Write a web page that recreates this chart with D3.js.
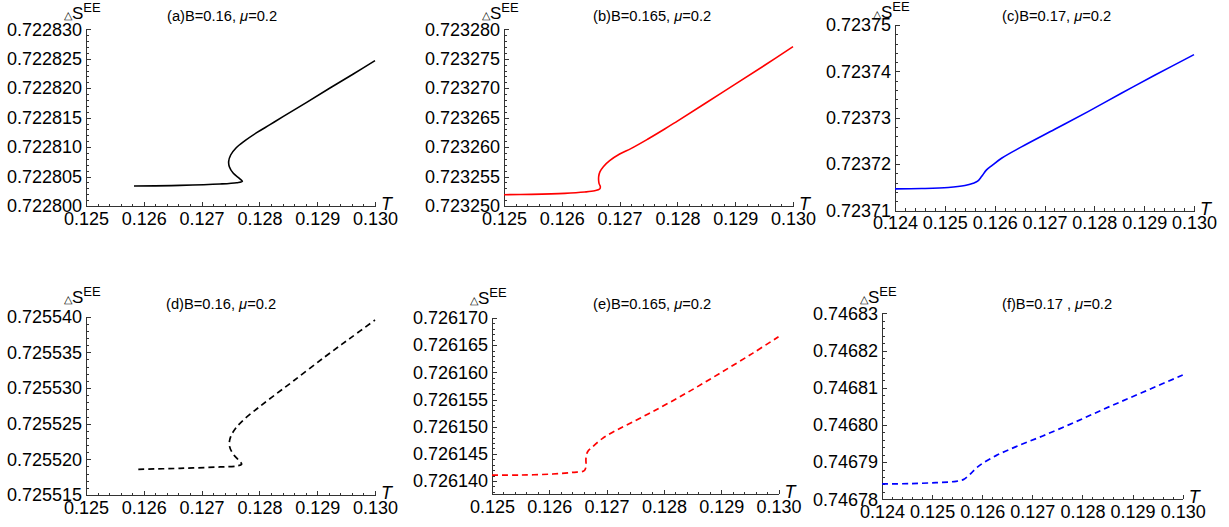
<!DOCTYPE html>
<html>
<head>
<meta charset="utf-8">
<script src="https://cdn.jsdelivr.net/npm/d3@7"></script>
<style>
  body { margin:0; background:#fff; }
  text { font-family:"Liberation Sans", Arial, sans-serif; fill:#000; }
  .axis path, .axis line { stroke:#333; stroke-width:1; shape-rendering:crispEdges; }
</style>
</head>
<body>
<svg id="chart" width="1229" height="527"></svg>
<script>
// ---- data ----
// (a) B=0.16 solid black
var tA = [0.125830,0.126626,0.127318,0.127607,0.127705,0.127653,0.127549,0.127480,0.127468,0.127503,0.127595,0.127751,0.127953,0.128183,0.128408,0.128818,0.129221,0.129625,0.130000];
var sA = [0.72280340,0.72280351,0.72280374,0.72280396,0.72280419,0.72280470,0.72280555,0.72280668,0.72280753,0.72280866,0.72280985,0.72281109,0.72281245,0.72281381,0.72281517,0.72281760,0.72282004,0.72282241,0.72282468];
// (b) B=0.165 solid red
var tB = [0.125000,0.125473,0.126050,0.126396,0.126569,0.126655,0.126667,0.126644,0.126638,0.126661,0.126719,0.126828,0.127001,0.127203,0.127491,0.127780,0.127993,0.128772,0.129510,0.130000];
var sB = [0.72325192,0.72325198,0.72325215,0.72325238,0.72325260,0.72325289,0.72325328,0.72325385,0.72325498,0.72325583,0.72325668,0.72325770,0.72325883,0.72325979,0.72326138,0.72326307,0.72326438,0.72326924,0.72327389,0.72327705];
// (c) B=0.17 solid blue
var tC = [0.124000,0.124534,0.125069,0.125403,0.125570,0.125657,0.125737,0.125837,0.125937,0.126138,0.126538,0.127206,0.127874,0.128542,0.129210,0.130000];
var sC = [0.72371467,0.72371474,0.72371496,0.72371539,0.72371589,0.72371632,0.72371732,0.72371876,0.72371962,0.72372127,0.72372372,0.72372752,0.72373133,0.72373528,0.72373915,0.72374362];
// (d) B=0.16 dashed black
var tD = [0.125905,0.126626,0.127318,0.127607,0.127693,0.127636,0.127537,0.127480,0.127503,0.127589,0.127722,0.127953,0.128212,0.128587,0.129135,0.129567,0.130000];
var sD = [0.72551860,0.72551874,0.72551893,0.72551907,0.72551930,0.72551991,0.72552084,0.72552201,0.72552318,0.72552435,0.72552551,0.72552706,0.72552869,0.72553098,0.72553439,0.72553696,0.72553953];
// (e) B=0.165 dashed red
var tE = [0.125000,0.125477,0.126058,0.126407,0.126610,0.126640,0.126640,0.126669,0.126756,0.126930,0.127105,0.127337,0.127802,0.128384,0.128965,0.129547,0.130000];
var sE = [0.72614110,0.72614110,0.72614129,0.72614160,0.72614190,0.72614263,0.72614417,0.72614539,0.72614631,0.72614785,0.72614896,0.72615024,0.72615276,0.72615613,0.72615975,0.72616349,0.72616655];
// (f) B=0.17 dashed blue
var tF = [0.124000,0.124546,0.125078,0.125477,0.125623,0.125743,0.125876,0.126009,0.126275,0.126675,0.127207,0.127872,0.128538,0.129203,0.130000];
var sF = [0.74678412,0.74678421,0.74678448,0.74678484,0.74678529,0.74678654,0.74678833,0.74678968,0.74679174,0.74679416,0.74679703,0.74680088,0.74680491,0.74680876,0.74681342];

// tick labels
var xTicks125 = [0.125,0.126,0.127,0.128,0.129,0.130];
var xTicks124 = [0.124,0.125,0.126,0.127,0.128,0.129,0.130];
var yTicksA = [0.722800,0.722805,0.722810,0.722815,0.722820,0.722825,0.722830];
var yTicksB = [0.723250,0.723255,0.723260,0.723265,0.723270,0.723275,0.723280];
var yTicksC = [0.72371,0.72372,0.72373,0.72374,0.72375];
var yTicksD = [0.725515,0.725520,0.725525,0.725530,0.725535,0.725540];
var yTicksE = [0.726140,0.726145,0.726150,0.726155,0.726160,0.726165,0.726170];
var yTicksF = [0.74678,0.74679,0.74680,0.74681,0.74682,0.74683];

var titles = ["(a)B=0.16, ", "(b)B=0.165, ", "(c)B=0.17, ", "(d)B=0.16, ", "(e)B=0.165, ", "(f)B=0.17 , "];

// ---- layout ----
var panels = [
  {t:tA, s:sA, title:titles[0], color:"#000", dash:null, xr:[86,375], yr:[29.3,206], tDom:[0.125,0.130], sDom:[0.7228,0.72283], xt:xTicks125, yt:yTicksA, fy:".6f", tx:167, tb:21, lb:19},
  {t:tB, s:sB, title:titles[1], color:"#ff0000", dash:null, xr:[504,793], yr:[29.3,206], tDom:[0.125,0.130], sDom:[0.72325,0.72328], xt:xTicks125, yt:yTicksB, fy:".6f", tx:593, tb:21, lb:19},
  {t:tC, s:sC, title:titles[2], color:"#0000ff", dash:null, xr:[895,1194], yr:[25,210.5], tDom:[0.124,0.130], sDom:[0.72371,0.72375], xt:xTicks124, yt:yTicksC, fy:".5f", tx:1002, tb:21, lb:18},
  {t:tD, s:sD, title:titles[3], color:"#000", dash:"6,4", xr:[86,375], yr:[316.7,495], tDom:[0.125,0.130], sDom:[0.725515,0.72554], xt:xTicks125, yt:yTicksD, fy:".6f", tx:166, tb:309, lb:303},
  {t:tE, s:sE, title:titles[4], color:"#ff0000", dash:"6,4", xr:[492,778.5], yr:[318,494], tDom:[0.125,0.130], sDom:[0.72613761,0.72617], xt:xTicks125, yt:yTicksE, fy:".6f", tx:593, tb:309, lb:304},
  {t:tF, s:sF, title:titles[5], color:"#0000ff", dash:"6,4", xr:[882,1182.7], yr:[313.3,499.3], tDom:[0.124,0.130], sDom:[0.74678,0.74683], xt:xTicks124, yt:yTicksF, fy:".5f", tx:1002, tb:309, lb:303}
];

var svg = d3.select("#chart");

function minors(major, lo) {
  var out = [], step = (major[1] - major[0]) / 5;
  for (var i = 0; i < major.length - 1; i++)
    for (var k = 1; k < 5; k++) out.push(major[i] + k * step);
  for (var v = major[0] - step; v >= lo - step * 0.01; v -= step) out.push(v);
  return out;
}

panels.forEach(function(p) {
  var x = d3.scaleLinear().domain(p.tDom).range(p.xr);
  var y = d3.scaleLinear().domain(p.sDom).range([p.yr[1], p.yr[0]]);
  var g = svg.append("g");

  // minor ticks
  g.append("g").attr("class", "axis").attr("transform", "translate(0," + p.yr[1] + ")")
    .call(d3.axisBottom(x).tickValues(minors(p.xt, p.tDom[0])).tickSize(-2.5).tickSizeOuter(0).tickFormat(""));
  g.append("g").attr("class", "axis").attr("transform", "translate(" + p.xr[0] + ",0)")
    .call(d3.axisLeft(y).tickValues(minors(p.yt, p.sDom[0])).tickSize(-2.5).tickSizeOuter(0).tickFormat(""));

  // major ticks + labels
  g.append("g").attr("class", "axis").attr("transform", "translate(0," + p.yr[1] + ")")
    .call(d3.axisBottom(x).tickValues(p.xt).tickSize(-4.5).tickSizeOuter(0).tickPadding(6).tickFormat(d3.format(".3f")));
  g.append("g").attr("class", "axis").attr("transform", "translate(" + p.xr[0] + ",0)")
    .call(d3.axisLeft(y).tickValues(p.yt).tickSize(-4.5).tickSizeOuter(0).tickPadding(4).tickFormat(d3.format(p.fy)));
  g.selectAll(".axis text").attr("font-size", 18).attr("font-family", "Liberation Sans, Arial, sans-serif").attr("fill", "#000");

  // curve
  var line = d3.line().x(function(d) { return x(d[0]); }).y(function(d) { return y(d[1]); })
    .curve(d3.curveCatmullRom.alpha(0.5));
  g.append("path").datum(d3.zip(p.t, p.s))
    .attr("d", line).attr("fill", "none").attr("stroke", p.color)
    .attr("stroke-width", p.dash ? 1.7 : 1.6)
    .attr("stroke-dasharray", p.dash);

  // T label
  g.append("text").attr("x", p.xr[1] + 6).attr("y", p.yr[1] + 4)
    .attr("font-size", 18).attr("font-style", "italic").text("T");

  // y label
  var yl = g.append("text").attr("x", p.xr[0] - 22).attr("y", p.lb);
  yl.append("tspan").attr("font-size", 11).text("\u25B3");
  yl.append("tspan").attr("font-size", 17).text("S");
  yl.append("tspan").attr("font-size", 13).attr("dy", -7).text("EE");

  // title
  var tt = g.append("text").attr("x", p.tx).attr("y", p.tb).attr("font-size", 14.7);
  tt.append("tspan").text(p.title);
  tt.append("tspan").attr("font-style", "italic").text("\u03BC");
  tt.append("tspan").text("=0.2");
});
</script>
</body>
</html>
